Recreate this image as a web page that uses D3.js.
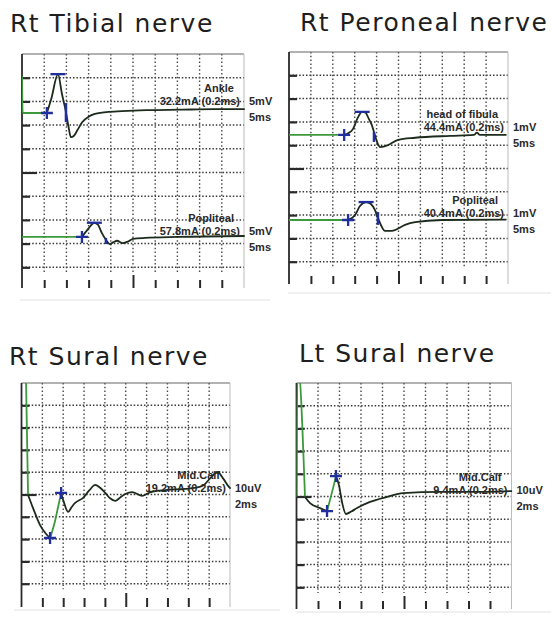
<!DOCTYPE html>
<html><head><meta charset="utf-8">
<script src="https://cdn.jsdelivr.net/npm/d3@7"></script>
<style>body{margin:0;background:#fff}svg{display:block}</style>
</head><body>
<script>
// ---------------- DATA ----------------
const titles = ["Rt Tibial nerve", "Rt Peroneal nerve", "Rt Sural nerve", "Lt Sural nerve"];
const msPerDiv = [5, 5, 2, 2];          // sweep per division
const ampPerDiv = [5, 1, 10, 10];       // mV, mV, uV, uV per division

// traces: [time (ms), amplitude (panel units, relative to trace baseline)]
const tibialAnkle = [[0,7.6],[0.15,0],[5.6,0],[6.6,3.0],[8.1,8.2],[9.0,4.0],[9.9,0.2],[10.5,-3.0],[11.0,-5.1],[11.7,-4.8],[12.5,-3.6],[13.5,-2.0],[15,-0.8],[16.4,-0.2],[19,0.2],[22.5,0.4],[28,0.6],[35.6,0.7],[43,0.8],[50,0.8]];
const tibialPopliteal = [[0,0],[13.5,0],[14.9,1.7],[16.3,3.0],[17.1,2.6],[18.0,0.8],[18.9,-0.6],[19.8,-1.5],[20.6,-1.1],[21.4,-0.8],[22.7,-1.3],[24,-0.9],[25,-0.4],[27.7,-0.2],[35,0],[50,0.2]];
const peronealFibula = [[0,0],[12.6,0],[13.6,0.08],[14.6,0.25],[15.6,0.7],[16.7,0.99],[17.5,0.95],[18.2,0.7],[18.9,0.43],[19.4,0.13],[20.1,-0.3],[20.8,-0.52],[21.6,-0.5],[22.6,-0.43],[24.9,-0.21],[28.8,-0.12],[36.8,-0.04],[42.2,0],[42.9,0.1],[43.6,0],[49.5,0]];
const peronealPopliteal = [[0,0],[13.5,0],[15.1,0.21],[16.2,0.6],[17.6,0.77],[18.7,0.69],[19.6,0.43],[20.3,0.09],[21.2,-0.3],[21.9,-0.47],[23,-0.47],[24.2,-0.43],[26.5,-0.21],[28.8,-0.09],[34.9,0],[49.5,0.02]];
const rtSural = [[0.4,60],[0.63,0],[1.1,-5.8],[1.78,-13.5],[2.36,-17.5],[2.74,-19.3],[3.2,-12],[3.51,-5.4],[3.8,0.9],[4.05,-3.0],[4.47,-7.6],[4.8,-5.5],[5.14,-3.6],[5.91,-1.3],[6.5,2.0],[7.07,4.5],[7.6,3.0],[8.03,0.9],[8.5,-1.5],[8.99,-2.7],[9.5,-1.0],[9.95,0.4],[10.6,1.3],[11.6,-0.4],[12.4,1.3],[13.8,2.2],[15.7,2.7],[17.0,3.5],[17.5,4.5],[18.2,8],[18.8,10.3],[19.4,7],[19.9,3.6],[20,3.1]];
const ltSural = [[0,0],[0.1,60],[0.79,-0.4],[1.26,-3.1],[2.19,-5.3],[2.84,-6.6],[3.4,3.5],[3.67,8.8],[3.95,4.8],[4.23,-2.6],[4.6,-7.9],[5.1,-6.8],[5.63,-5.3],[6.84,-2.6],[8.42,-0.4],[9.91,1.3],[13.35,1.8],[16.1,1.8],[20,2.2]];

// markers
const onsetMarks = [[5.6,0],[13.5,0],[12.6,0],[13.5,0],[2.74,-19.3],[2.84,-6.6]];
const peakMarks  = [[8.1,8.2],[16.3,3.0],[16.7,0.99],[17.6,0.77],[3.8,0.9],[3.67,8.8]];
const negMarks   = [[9.9,2.1,-1.9],[18.9,-0.2,-1.5],[19.4,0.13,-0.3],[20.3,0.34,-0.21],null,null];

// labels
const siteLabels  = ["Ankle","Popliteal","head of fibula","Popliteal","Mid.Calf","Mid.Calf"];
const stimLabels  = ["32.2mA (0.2ms)","57.8mA (0.2ms)","44.4mA (0.2ms)","40.4mA (0.2ms)","19.2mA (0.2ms)","9.4mA (0.2ms)"];
const gainLabels  = ["5mV","5mV","1mV","1mV","10uV","10uV"];
const sweepLabels = ["5ms","5ms","5ms","5ms","2ms","2ms"];

// ---------------- LAYOUT ----------------
const W = 551, H = 618;
const panels = [
  {left:22,   right:244,   top:54,  rowH:23.7, bottom:288, tickTop:280, sepY:300, sepX0:20,  sepX1:270, titleX:10,  titleY:32},
  {left:289,  right:508,   top:52,  rowH:23.3, bottom:284, tickTop:276, sepY:293, sepX0:288, sepX1:551, titleX:300, titleY:31},
  {left:21.5, right:230,   top:383, rowH:22.3, bottom:607, tickTop:598, sepY:610, sepX0:14,  sepX1:280, titleX:9,   titleY:365},
  {left:296.5,right:511.5, top:383, rowH:22.7, bottom:609, tickTop:601, sepY:612, sepX0:297, sepX1:551, titleX:299, titleY:362}
];
const traces = [
  {panel:0, pts:tibialAnkle,      baseDiv:2.49, green:[[0,5.6]], labelY:101},
  {panel:0, pts:tibialPopliteal,  baseDiv:7.72, green:[[0,13.5]], labelY:231},
  {panel:1, pts:peronealFibula,   baseDiv:3.56, green:[[0,12.6]], labelY:127},
  {panel:1, pts:peronealPopliteal,baseDiv:7.21, green:[[0,13.5]], labelY:213},
  {panel:2, pts:rtSural,          baseDiv:5.02, green:[[0,0.63],[2.74,3.8]], labelY:488},
  {panel:3, pts:ltSural,          baseDiv:4.98, green:[[0,0.79],[2.84,3.67]], labelY:490}
];
const GREEN = "#3c9a3c", DARK = "#1c2b1c", BLUE = "#1f2f9e";

const svg = d3.select("body").append("svg").attr("width", W).attr("height", H);
const defs = svg.append("defs");

panels.forEach((p, i) => {
  p.x = d3.scaleLinear().domain([0, 10 * msPerDiv[i]]).range([p.left, p.right]);
  p.yd = d3.scaleLinear().domain([0, 10]).range([p.top, p.top + 10 * p.rowH]);
  const g = svg.append("g");

  // title
  g.append("text").attr("x", p.titleX).attr("y", p.titleY)
    .attr("font-family", "DejaVu Sans, sans-serif").attr("font-size", 25)
    .attr("letter-spacing", 1.5).attr("fill", "#1e1e1e").text(titles[i]);

  // separator
  g.append("line").attr("x1", p.sepX0).attr("x2", p.sepX1).attr("y1", p.sepY).attr("y2", p.sepY)
    .attr("stroke", "#e2e2e2").attr("stroke-width", 1.2);

  // horizontal dotted grid
  const hDivs = d3.range(1, 10);
  g.selectAll(".hg").data(hDivs).join("line")
    .attr("x1", p.left).attr("x2", p.right)
    .attr("y1", d => p.yd(d)).attr("y2", d => p.yd(d))
    .attr("stroke", "#3a3a3a").attr("stroke-width", 1.5).attr("stroke-dasharray", "1.5 1.9");
  // vertical dotted grid
  const vTicks = d3.range(1, 10).map(k => k * msPerDiv[i]);
  g.selectAll(".vg").data(vTicks).join("line")
    .attr("x1", d => p.x(d)).attr("x2", d => p.x(d))
    .attr("y1", p.top).attr("y2", p.yd(9.25))
    .attr("stroke", "#4a4a4a").attr("stroke-width", 1.4).attr("stroke-dasharray", "1.5 2.3");

  // borders
  g.append("line").attr("x1", p.left).attr("x2", p.right).attr("y1", p.top).attr("y2", p.top)
    .attr("stroke", "#666").attr("stroke-width", 1.1);
  g.append("line").attr("x1", p.right).attr("x2", p.right).attr("y1", p.top).attr("y2", p.bottom)
    .attr("stroke", "#bbb").attr("stroke-width", 1);

  // left axis ticks via d3 axis
  const yAxis = d3.axisRight(p.yd).tickValues(hDivs).tickSize(8).tickFormat("");
  const ya = g.append("g").attr("transform", `translate(${p.left},0)`).call(yAxis);
  ya.select(".domain").remove();
  ya.selectAll(".tick line").attr("stroke", "#2a2a2a").attr("stroke-width", 2.2)
    .attr("x2", d => d === 5 ? 15 : 8);
  // bottom ticks via d3 axis
  const xAxis = d3.axisTop(p.x).tickValues(vTicks).tickSize(p.bottom - p.tickTop).tickFormat("");
  const xa = g.append("g").attr("transform", `translate(0,${p.bottom})`).call(xAxis);
  xa.select(".domain").remove();
  xa.selectAll(".tick line").attr("stroke", "#2a2a2a").attr("stroke-width", 2)
    .attr("y2", d => d === 5 * msPerDiv[i] ? -(p.bottom - p.tickTop + 5) : -(p.bottom - p.tickTop));

  // left axis line
  g.append("line").attr("x1", p.left).attr("x2", p.left).attr("y1", p.top).attr("y2", p.bottom)
    .attr("stroke", "#2a2a2a").attr("stroke-width", 1.8);

  defs.append("clipPath").attr("id", "clip" + i).append("rect")
    .attr("x", p.left).attr("y", p.top).attr("width", p.right - p.left + 1).attr("height", p.bottom - p.top);
  p.traceG = svg.append("g").attr("clip-path", `url(#clip${i})`);
  p.markG = svg.append("g");
  p.labelG = svg.append("g");
});

function inGreen(t, ranges) { return ranges.some(r => t >= r[0] && t <= r[1]); }

traces.forEach((tr, k) => {
  const p = panels[tr.panel], i = tr.panel;
  const Y = v => p.yd(tr.baseDiv - v / ampPerDiv[i]);
  const X = t => p.x(t);
  const line = d3.line().x(d => X(d[0])).y(d => Y(d[1])).curve(d3.curveMonotoneX);

  // split into colour groups
  const groups = [];
  for (let j = 0; j < tr.pts.length - 1; j++) {
    const a = tr.pts[j], b = tr.pts[j + 1];
    const gr = inGreen((a[0] + b[0]) / 2, tr.green);
    const last = groups[groups.length - 1];
    if (last && last.green === gr) last.pts.push(b);
    else groups.push({green: gr, pts: [a, b]});
  }
  p.traceG.selectAll(null).data(groups).join("path")
    .attr("d", d => line(d.pts)).attr("fill", "none")
    .attr("stroke", d => d.green ? GREEN : DARK)
    .attr("stroke-width", 1.8).attr("stroke-linejoin", "round").attr("stroke-linecap", "round");

  // onset "+"
  const o = onsetMarks[k], s = 6;
  const plus = (t, v) => {
    p.markG.append("path")
      .attr("d", `M${X(t) - s},${Y(v)}H${X(t) + s}M${X(t)},${Y(v) - s}V${Y(v) + s}`)
      .attr("stroke", BLUE).attr("stroke-width", 2.3).attr("fill", "none");
  };
  plus(o[0], o[1]);
  const pk = peakMarks[k];
  if (i < 2) {
    p.markG.append("line").attr("x1", X(pk[0]) - 7.5).attr("x2", X(pk[0]) + 7.5)
      .attr("y1", Y(pk[1])).attr("y2", Y(pk[1])).attr("stroke", BLUE).attr("stroke-width", 2.3);
  } else {
    plus(pk[0], pk[1]);
  }
  const ng = negMarks[k];
  if (ng) {
    p.markG.append("line").attr("x1", X(ng[0])).attr("x2", X(ng[0]))
      .attr("y1", Y(ng[1])).attr("y2", Y(ng[2])).attr("stroke", BLUE).attr("stroke-width", 2.5);
  }

  // labels
  const lab = (x, y, txt, anchor) => p.labelG.append("text").attr("x", x).attr("y", y)
    .attr("text-anchor", anchor).attr("dominant-baseline", "central")
    .attr("font-family", "Liberation Sans, Arial, sans-serif").attr("font-weight", "bold")
    .attr("font-size", 11).attr("fill", "#2a2a2a").text(txt);
  lab(p.right - 10, tr.labelY - 13, siteLabels[k], "end");
  lab(p.right - 4, tr.labelY, stimLabels[k], "end");
  lab(p.right + 5, tr.labelY, gainLabels[k], "start");
  lab(p.right + 5, tr.labelY + 16, sweepLabels[k], "start");
});
</script>
</body></html>
